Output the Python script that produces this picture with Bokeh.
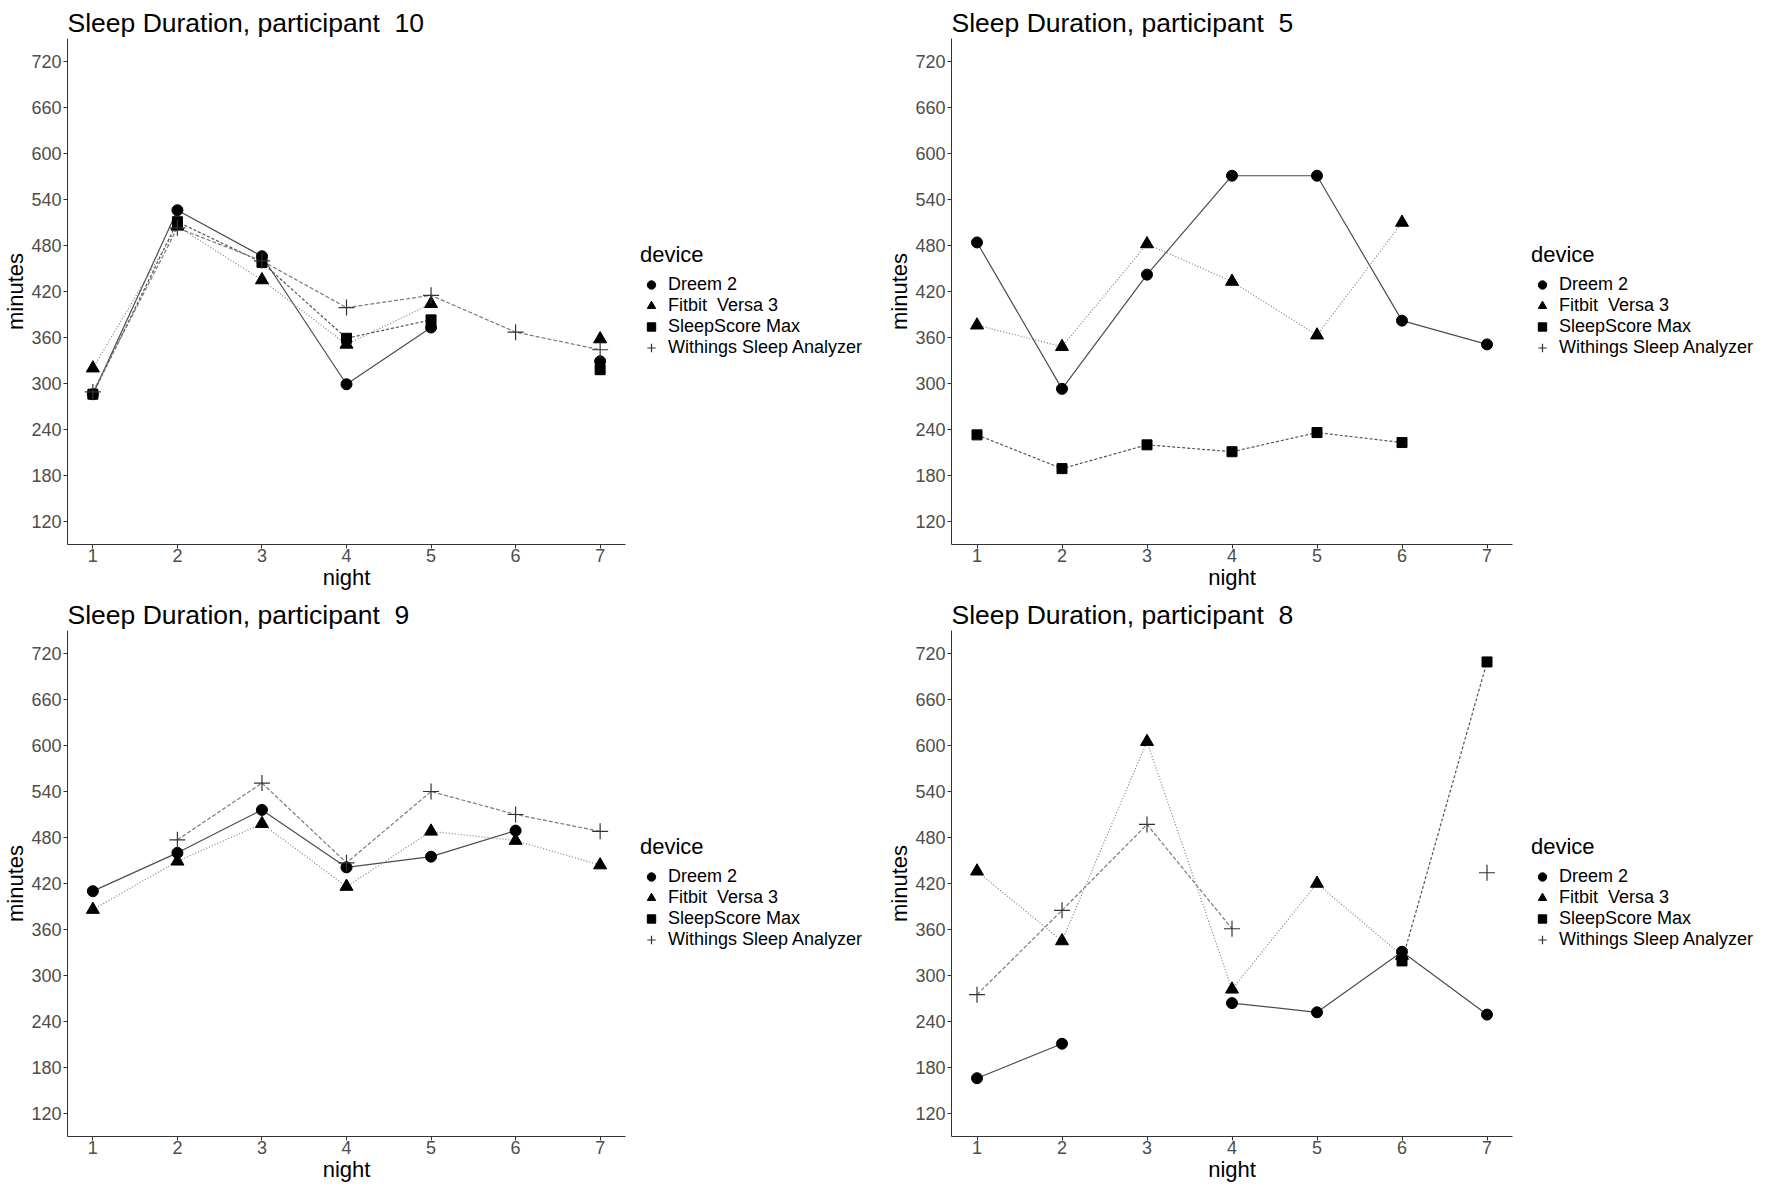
import numpy as np
from bokeh.plotting import figure
from bokeh.layouts import gridplot
from bokeh.models import ColumnDataSource, Legend, LegendItem, FixedTicker, Range1d
from bokeh.embed import file_html
from bokeh.resources import INLINE

# datos (None = noche sin medicion)
nights = [1, 2, 3, 4, 5, 6, 7]
y_ticks = [120, 180, 240, 300, 360, 420, 480, 540, 600, 660, 720]
# espacio doble como en el original (no separable para que el SVG no lo colapse)
devices = ["Dreem 2", "Fitbit\u00a0 Versa 3", "SleepScore Max", "Withings Sleep Analyzer"]

NA = None
# participante 10
p10_dreem = [286, 526, 466, 299, 373, NA, 329]
p10_fitbit = [320, 505, 435, 351, 404, NA, 358]
p10_sleepscore = [286, 511, 458, 359, 383, NA, 318]
p10_withings = [289, 503, 460, 399, 415, 367, 344]
# participante 5
p5_dreem = [484, 293, 442, 571, 571, 382, 351]
p5_fitbit = [376, 348, 482, 433, 363, 510, NA]
p5_sleepscore = [233, 189, 220, 211, 236, 223, NA]
p5_withings = [NA, NA, NA, NA, NA, NA, NA]
# participante 9
p9_dreem = [410, 460, 516, 441, 455, 489, NA]
p9_fitbit = [386, 449, 498, 416, 488, 476, 444]
p9_sleepscore = [NA, NA, NA, NA, NA, NA, NA]
p9_withings = [NA, 477, 551, 447, 540, 510, 488]
# participante 8
p8_dreem = [166, 211, NA, 264, 252, 331, 249]
p8_fitbit = [436, 345, 605, 282, 420, 326, NA]
p8_sleepscore = [NA, NA, NA, NA, NA, 319, 709]
p8_withings = [275, 385, 497, 361, NA, NA, 434]

FONT = "Liberation Sans"

# estilo por dispositivo: marcador, tamano, tipo de linea, color de linea
styles = {
    devices[0]: ("circle", 11, "solid", "#4d4d4d"),
    devices[1]: ("triangle", 13, "1 2", "#808080"),
    devices[2]: ("square", 10, "3 2", "#555555"),
    devices[3]: ("cross", 16, "4 2", "#7a7a7a"),
}


def add_marker(p, src, marker, size):
    if marker == "cross":
        return p.scatter("x", "y", source=src, marker=marker, size=size,
                         line_color="#333333", line_width=1.2)
    return p.scatter("x", "y", source=src, marker=marker, size=size,
                     fill_color="black", line_color="black")


def make_panel(pid, series, width, left):
    p = figure(title="Sleep Duration, participant\u00a0 " + pid,
               width=width, height=592,
               x_range=Range1d(0.7, 7.3), y_range=Range1d(90, 750),
               x_axis_label="night", y_axis_label="minutes",
               output_backend="svg", toolbar_location=None,
               min_border_left=left, min_border_top=38,
               min_border_bottom=48, min_border_right=8)

    p.title.text_font = FONT
    p.title.text_font_size = "26.5px"
    p.title.text_font_style = "normal"
    p.title.text_color = "black"
    p.title.align = "left"
    p.title.standoff = 2

    p.xaxis.ticker = FixedTicker(ticks=nights)
    p.yaxis.ticker = FixedTicker(ticks=y_ticks)
    for ax in [p.xaxis, p.yaxis]:
        ax.major_label_text_font = FONT
        ax.major_label_text_font_size = "18px"
        ax.major_label_text_color = "#4d4d4d"
        ax.axis_label_text_font = FONT
        ax.axis_label_text_font_size = "22px"
        ax.axis_label_text_font_style = "normal"
        ax.axis_label_text_color = "black"
        ax.axis_line_color = "#333333"
        ax.major_tick_line_color = "#333333"
        ax.minor_tick_line_color = None
        ax.major_tick_in = 0
        ax.major_tick_out = 4
        ax.axis_label_standoff = 0
    p.xaxis.major_label_standoff = 0
    p.yaxis.major_label_standoff = 2
    p.grid.visible = False
    p.outline_line_color = None

    sources = []
    for name in devices:
        marker, size, dash, lcolor = styles[name]
        y = np.array([np.nan if v is None else v for v in series[name]], dtype=float)
        src = ColumnDataSource(dict(x=nights, y=y))
        p.line("x", "y", source=src, line_color=lcolor, line_width=1.2, line_dash=dash)
        sources.append((src, marker, size))

    for src, marker, size in sources:
        add_marker(p, src, marker, size)
    return p


def make_legend(width, xpos, pad):
    # figura aparte solo para la leyenda "device"
    lg = figure(width=width, height=592, x_range=Range1d(0, 1), y_range=Range1d(0, 1),
                output_backend="svg", toolbar_location=None,
                x_axis_location=None, y_axis_location=None,
                min_border_left=0, min_border_right=0,
                min_border_top=0, min_border_bottom=0)
    lg.grid.visible = False
    lg.outline_line_color = None
    items = []
    for name in devices:
        marker, size, dash, lcolor = styles[name]
        src = ColumnDataSource(dict(x=[np.nan], y=[np.nan]))
        r = add_marker(lg, src, marker, size)
        items.append(LegendItem(label=name, renderers=[r]))
    legend = Legend(items=items, title="device", location=(xpos, 186),
                    title_text_font=FONT, title_text_font_size="22px",
                    title_text_font_style="normal", title_text_color="black",
                    title_standoff=6,
                    label_text_font=FONT, label_text_font_size="18px",
                    label_text_color="black",
                    glyph_width=22, glyph_height=21, label_height=18,
                    spacing=-3, label_standoff=6, padding=pad, margin=0,
                    border_line_color=None, background_fill_alpha=0)
    lg.add_layout(legend)
    return lg


p10 = make_panel("10", {devices[0]: p10_dreem, devices[1]: p10_fitbit,
                        devices[2]: p10_sleepscore, devices[3]: p10_withings}, 633, 59)
p5 = make_panel("5", {devices[0]: p5_dreem, devices[1]: p5_fitbit,
                      devices[2]: p5_sleepscore, devices[3]: p5_withings}, 636, 62)
p9 = make_panel("9", {devices[0]: p9_dreem, devices[1]: p9_fitbit,
                      devices[2]: p9_sleepscore, devices[3]: p9_withings}, 633, 59)
p8 = make_panel("8", {devices[0]: p8_dreem, devices[1]: p8_fitbit,
                      devices[2]: p8_sleepscore, devices[3]: p8_withings}, 636, 62)

grid = gridplot([[p10, make_legend(251, 7, 8), p5, make_legend(241, 11, 4)],
                 [p9, make_legend(251, 7, 8), p8, make_legend(241, 11, 4)]],
                toolbar_location=None)

open("out.html", "w").write(file_html(grid, INLINE))
